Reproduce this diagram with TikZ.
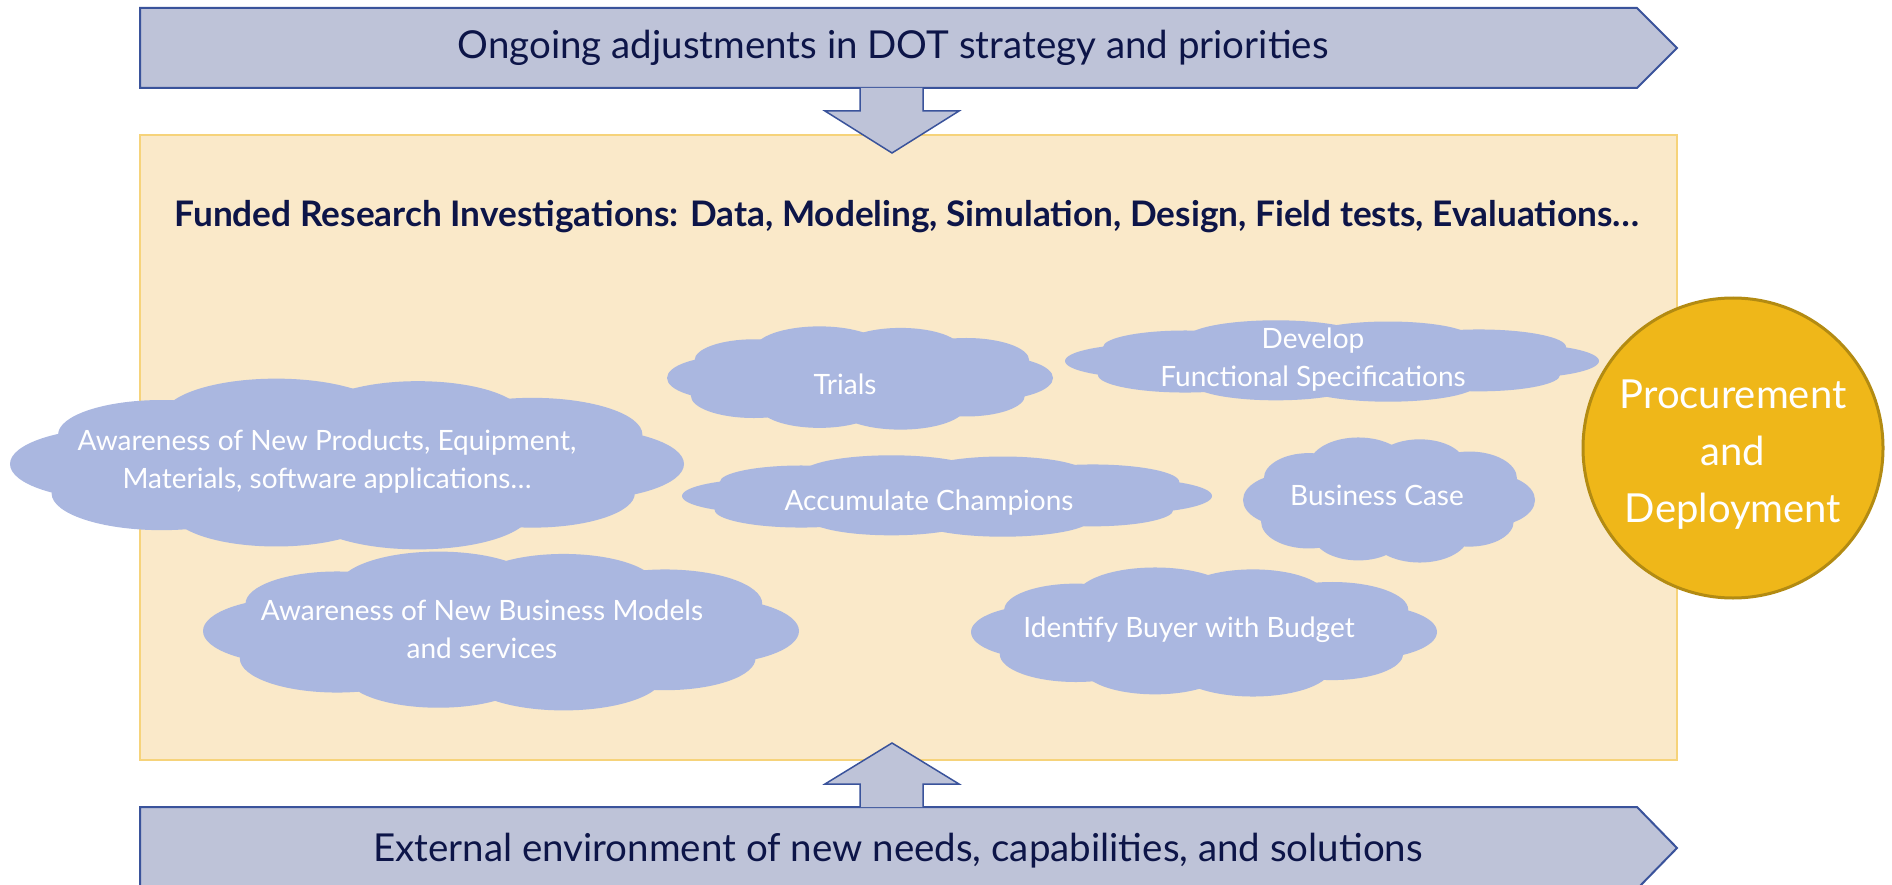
\documentclass[tikz,border=0pt]{standalone}
\usepackage{fontspec}
\setmainfont{Lato}
\definecolor{bannerfill}{HTML}{BEC3D8}
\definecolor{bannerdraw}{HTML}{3A539B}
\definecolor{navy}{HTML}{0D1548}
\definecolor{boxfill}{HTML}{FAE9C9}
\definecolor{boxdraw}{HTML}{F6D37A}
\definecolor{cloudc}{HTML}{AAB7E0}
\definecolor{circfill}{HTML}{EFB719}
\definecolor{circdraw}{HTML}{B38B12}
% cloud: centre x, centre y, half width, half height
\newcommand\cloudshape[4]{%
  \fill[cloudc] (#1,#2) ellipse [x radius={0.82*#3*1pt}, y radius={0.78*#4*1pt}];
  \foreach \t/\s in {0/1,36/0.95,72/1.05,108/0.97,144/1.02,180/1,216/0.96,252/1.05,288/0.98,324/1.02}{
    \fill[cloudc] ({#1+0.68*#3*cos(\t)},{#2+0.58*#4*sin(\t)})
      ellipse [x radius={0.32*#3*\s*1pt}, y radius={0.42*#4*\s*1pt}];
  }%
}
\begin{document}
\begin{tikzpicture}[x=1pt,y=-1pt,
  banner/.style={fill=bannerfill,draw=bannerdraw,line width=2pt,line join=miter},
  bannertext/.style={text=navy,font=\fontsize{38.5}{44}\selectfont},
  cloudtext/.style={text=white,align=center,inner sep=0pt,font=\fontsize{28}{38}\selectfont},
]
\useasboundingbox (0,0) rectangle (1892,885);
% central box
\draw[fill=boxfill,draw=boxdraw,line width=2pt] (140,135) rectangle (1677,760);
\node[text=navy,font=\bfseries\fontsize{35.2}{40}\selectfont] (title) at (907,217)
  {Funded Research Investigations: Data, Modeling, Simulation, Design, Field tests, Evaluations\ldots};
% top banner
\draw[banner] (140,8) -- (1637,8) -- (1677,48) -- (1637,88) -- (140,88) -- cycle;
\node[bannertext] (topt) at (893,48) {Ongoing adjustments in DOT strategy and priorities};
% down arrow
\draw[banner,line width=1.5pt] (860,88) -- (860,111) -- (825,111) -- (892,153) -- (959,111) -- (923,111) -- (923,88);
% bottom banner
\draw[banner] (140,807) -- (1637,807) -- (1677,848) -- (1637,889) -- (140,889) -- cycle;
\node[bannertext] (bott) at (898,851) {External environment of new needs, capabilities, and solutions};
% up arrow
\draw[banner,line width=1.5pt] (860,807) -- (860,784) -- (825,784) -- (892,743) -- (959,784) -- (923,784) -- (923,807);
% clouds
\cloudshape{347}{464}{337}{86}
\node[cloudtext] (c1) at (327,462) {Awareness of New Products, Equipment,\\Materials, software applications\ldots};
\cloudshape{860}{378}{193}{52}
\node[cloudtext] (c2) at (845,384) {Trials};
\cloudshape{1332}{361}{267}{41}
\node[cloudtext] (c3) at (1313,360) {Develop\\Functional Specifications};
\cloudshape{947}{496}{265}{41}
\node[cloudtext] (c4) at (929,503) {Accumulate Champions};
\cloudshape{1389}{500}{146}{63}
\node[cloudtext] (c5) at (1377,495) {Business Case};
\cloudshape{501}{631}{298}{80}
\node[cloudtext] (c6) at (482,629) {Awareness of New Business Models\\and services};
\cloudshape{1204}{632}{233}{65}
\node[cloudtext] (c7) at (1189,630) {Identify Buyer with Budget};
% circle
\node[circle,minimum size=300pt,fill=circfill,draw=circdraw,line width=3pt] (proc) at (1733,448) {};
\node[text=white,align=center,font=\fontsize{40}{57}\selectfont] (proct) at (1733,455)
  {Procurement\\and\\Deployment};
\end{tikzpicture}
\end{document}
